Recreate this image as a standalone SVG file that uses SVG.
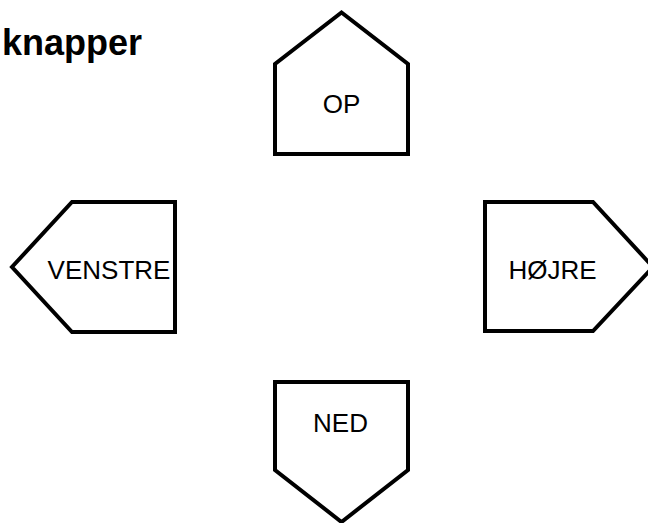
<svg xmlns="http://www.w3.org/2000/svg" width="648" height="523" viewBox="0 0 648 523">
<style>
.shape{fill:#fff;stroke:#000;stroke-width:4;stroke-linejoin:miter}
.lbl{font-family:"Liberation Sans",Arial,sans-serif;font-size:26px;fill:#000;text-anchor:middle}
.title{font-family:"Liberation Sans",Arial,sans-serif;font-size:36px;font-weight:bold;fill:#000}
</style>
<rect width="648" height="523" fill="#fff"/>
<text class="title" x="2" y="55">knapper</text>
<g id="connectors"></g>
<g id="op">
<polygon class="shape" points="275,154 275,64 341.5,12.5 408,64 408,154"/>
<text class="lbl" x="341.5" y="113">OP</text>
</g>
<g id="venstre">
<polygon class="shape" points="175,202 72,202 12,267 72,332 175,332"/>
<text class="lbl" x="109" y="279">VENSTRE</text>
</g>
<g id="hojre">
<polygon class="shape" points="485,202 593,202 653,267 593,331 485,331"/>
<text class="lbl" x="552.5" y="279">HØJRE</text>
</g>
<g id="ned">
<polygon class="shape" points="275,382 408,382 408,470 341.5,522 275,470"/>
<text class="lbl" x="340.5" y="432">NED</text>
</g>
</svg>
